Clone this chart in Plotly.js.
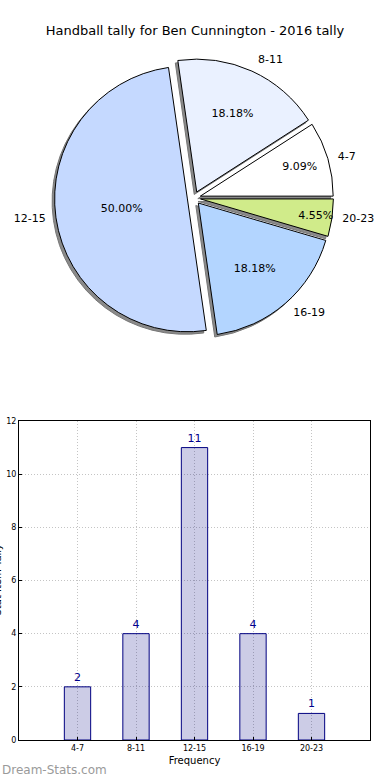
<!DOCTYPE html>
<html>
<head>
<meta charset="utf-8">
<script src="https://cdn.plot.ly/plotly-3.0.1.min.js"></script>
<style>html,body{margin:0;padding:0;background:#fff;}#chart{width:390px;height:780px;}</style>
</head>
<body>
<div id="chart"></div>
<script>
// ---- data ----
var categories = ["4-7", "8-11", "12-15", "16-19", "20-23"];
var tallies = [2, 4, 11, 4, 1];
var pieColors = ["#FFFFFF", "#EAF1FF", "#C5D9FF", "#B3D5FF", "#D0EB8A"];
var chartTitle = "Handball tally for Ben Cunnington - 2016 tally";
var xTitle = "Frequency";
var yTitle = "Stat Item Tally";
var yTicks = [0, 2, 4, 6, 8, 10, 12];
var watermark = "Dream-Stats.com";

var FONT = "DejaVu Sans, Verdana, sans-serif";
var pull = categories.map(function(){ return 0.05; });

// first slice should start at 3 o'clock and run counterclockwise;
// plotly's counterclockwise mode ends the first slice at `rotation`
var total = tallies.reduce(function(a,b){return a+b;}, 0);
var rot = 90 - 360 * tallies[0] / total;

// pie domain (in paper fractions)
var pdx = [0.1397, 0.855];
var pdy = [0.5673, 0.925];
var sx = -2.5/390, sy = -2.5/780;
var lx = 7/390, ly = 7/780; // label ring slightly larger than the pie

var basePie = {
  type: "pie", labels: categories, values: tallies, sort: false,
  direction: "counterclockwise", rotation: rot, pull: pull,
  hoverinfo: "skip", showlegend: false
};

var shadow = Object.assign({}, basePie, {
  domain: {x: [pdx[0]+sx, pdx[1]+sx], y: [pdy[0]+sy, pdy[1]+sy]},
  marker: {colors: categories.map(function(){return "#8a8a8a";}), line: {color: "#777", width: 1}},
  textinfo: "none"
});

var mainPie = Object.assign({}, basePie, {
  domain: {x: pdx, y: pdy},
  marker: {colors: pieColors, line: {color: "#000", width: 1}},
  texttemplate: "%{percent:.2%}",
  textposition: "inside",
  insidetextorientation: "horizontal",
  textfont: {family: FONT, size: 11, color: "#000"}
});

var labelPie = Object.assign({}, basePie, {
  domain: {x: [pdx[0]-lx, pdx[1]+lx], y: [pdy[0]-ly, pdy[1]+ly]},
  marker: {colors: categories.map(function(){return "rgba(0,0,0,0)";}), line: {width: 0}},
  textinfo: "label",
  textposition: "outside",
  outsidetextfont: {family: FONT, size: 11, color: "#000"},
  automargin: false
});

var bars = {
  type: "bar", x: categories, y: tallies, width: 0.45,
  marker: {color: "rgba(0,0,128,0.2)", line: {color: "#000080", width: 1}},
  text: tallies.map(String), textposition: "outside",
  textfont: {family: FONT, size: 11, color: "#00008B"},
  cliponaxis: false, hoverinfo: "skip", showlegend: false,
  xaxis: "x", yaxis: "y"
};

var layout = {
  width: 390, height: 780,
  margin: {l: 0, r: 0, t: 0, b: 0},
  paper_bgcolor: "#fff", plot_bgcolor: "#fff",
  font: {family: FONT, color: "#000"},
  uniformtext: {minsize: 11, mode: "show"},
  title: {text: chartTitle, font: {family: FONT, size: 13, color: "#000"},
          x: 0.5, xanchor: "center", y: 1 - 30/780, yanchor: "middle", yref: "container"},
  xaxis: {
    domain: [19/390, 370/390], range: [-1, 5], type: "category",
    showline: true, linecolor: "#000", linewidth: 1, mirror: true,
    showgrid: true, gridcolor: "#c4c4c4", griddash: "1px,2px", gridwidth: 1,
    ticks: "inside", ticklen: 3, tickcolor: "#000",
    tickfont: {family: FONT, size: 8, color: "#000"},
    title: {text: xTitle, font: {family: FONT, size: 10, color: "#000"}, standoff: 5},
    zeroline: false, fixedrange: true
  },
  yaxis: {
    domain: [1 - 740/780, 1 - 421/780], range: [0, 12],
    tickvals: yTicks, ticktext: yTicks.map(String),
    showline: true, linecolor: "#000", linewidth: 1, mirror: true,
    showgrid: true, gridcolor: "#c4c4c4", griddash: "1px,2px", gridwidth: 1,
    ticks: "inside", ticklen: 3, tickcolor: "#000",
    tickfont: {family: FONT, size: 8, color: "#000"},
    zeroline: false, fixedrange: true
  },
  annotations: [
    {text: watermark, xref: "paper", yref: "paper", x: 0, y: 0, xanchor: "left", yanchor: "bottom",
     yshift: 1, showarrow: false, font: {family: FONT, size: 12, color: "#9a9a9a"}},
    {text: yTitle, xref: "paper", yref: "paper", x: 0, y: 1 - 580/780, xanchor: "right", yanchor: "middle",
     xshift: 4, textangle: -90, showarrow: false, font: {family: FONT, size: 10, color: "#000"}}
  ]
};

Plotly.newPlot("chart", [shadow, mainPie, labelPie, bars], layout, {staticPlot: true, displayModeBar: false});
</script>
</body>
</html>
